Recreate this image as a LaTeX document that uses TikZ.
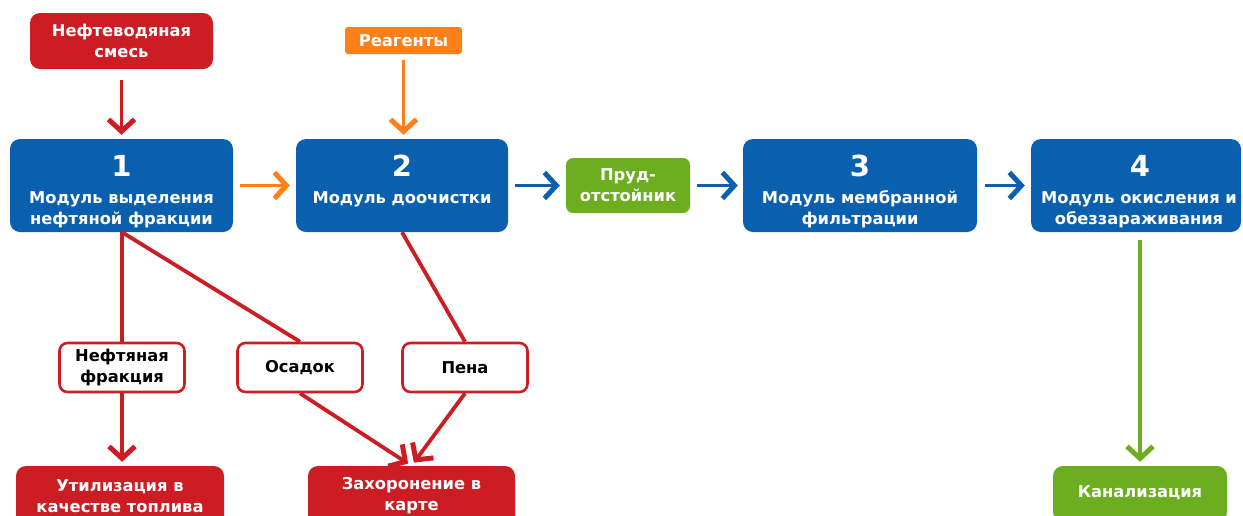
\documentclass[tikz,border=0pt]{standalone}
\usepackage{fontspec}
\setmainfont{DejaVu Sans}
\usetikzlibrary{arrows.meta}
\definecolor{cred}{HTML}{CC1D24}
\definecolor{cblue}{HTML}{0A60AE}
\definecolor{corange}{HTML}{FF8018}
\definecolor{cgreen}{HTML}{6CAE20}
\tikzset{
  lbl/.style={font=\bfseries\fontsize{16.3}{21}\selectfont, align=center, inner sep=0pt},
  num/.style={font=\bfseries\fontsize{29}{30}\selectfont, text=white, inner sep=0pt},
  blk/.style={rectangle, rounded corners=10pt, inner sep=0pt, fill=#1, draw=none},
  tag/.style={rectangle, rounded corners=8pt, inner sep=0pt, fill=white, draw=cred, line width=2.6pt,
              minimum width=125pt, minimum height=49pt},
  flow/.style={draw=#1, line width=3.8pt, -{Straight Barb[length=12pt,width=26pt,line width=5pt]}},
  wire/.style={draw=cred, line width=3.8pt}
}
\begin{document}
\begin{tikzpicture}[x=1pt,y=-1pt]
\useasboundingbox (0,0) rectangle (1243,515);
\clip (0,0) rectangle (1243,515);
\fill[white] (0,0) rectangle (1243,515);

% sources
\node[blk=cred, minimum width=183pt, minimum height=56pt] (mix) at (121.5,41) {};
\node[lbl, text=white] (mixT) at (mix) {Нефтеводяная\\смесь};
\node[blk=corange, rounded corners=3pt, minimum width=117pt, minimum height=27pt] (rea) at (403.5,40.5) {};
\node[lbl, text=white] (reaT) at (rea) {Реагенты};

% treatment modules
\node[blk=cblue, minimum width=223pt, minimum height=93pt] (b1) at (121.5,185.5) {};
\node[num] (n1) at (121.5,166) {1};
\node[lbl, text=white] (t1) at (121.5,209.5) {Модуль выделения\\нефтяной фракции};

\node[blk=cblue, minimum width=212pt, minimum height=93pt] (b2) at (402,185.5) {};
\node[num] (n2) at (402,166) {2};
\node[lbl, text=white] (t2) at (402,199) {Модуль доочистки};

\node[blk=cgreen, rounded corners=7pt, minimum width=124pt, minimum height=55pt] (pond) at (628,185.5) {};
\node[lbl, text=white] (pondT) at (pond) {Пруд-\\отстойник};

\node[blk=cblue, minimum width=234pt, minimum height=93pt] (b3) at (860,185.5) {};
\node[num] (n3) at (860,166) {3};
\node[lbl, text=white] (t3) at (860,209.5) {Модуль мембранной\\фильтрации};

\node[blk=cblue, minimum width=210pt, minimum height=93pt] (b4) at (1136,185.5) {};
\node[num] (n4) at (1140,166) {4};
\node[lbl, text=white] (t4) at (1139,209.5) {Модуль окисления и\\обеззараживания};

% by-products
\node[tag] (nf) at (122,367.5) {};
\node[lbl] (nfT) at (nf) {Нефтяная\\фракция};
\node[tag] (os) at (300,367.5) {};
\node[lbl] (osT) at (os) {Осадок};
\node[tag] (pe) at (465,367.5) {};
\node[lbl] (peT) at (pe) {Пена};

% destinations
\node[blk=cred, minimum width=208pt, minimum height=60pt] (ut) at (120,496) {};
\node[lbl, text=white] (utT) at (ut) {Утилизация в\\качестве топлива};
\node[blk=cred, minimum width=207pt, minimum height=60pt] (zh) at (411.5,496) {};
\node[lbl, text=white] (zhT) at (zh) {Захоронение в\\карте};
\node[blk=cgreen, minimum width=174pt, minimum height=56pt] (kan) at (1140,494) {};
\node[lbl, text=white] (kanT) at (1140,493) {Канализация};

% main flow
\draw[flow=cred, shorten <=11pt, shorten >=4pt] (mix.south) -- (b1.north);
\draw[flow=corange, shorten <=6pt, shorten >=4pt] (rea.south) -- (b2.north -| rea.south);
\draw[flow=corange, shorten <=7pt, shorten >=6pt] (b1.east) -- (b2.west);
\draw[flow=cblue, shorten <=7pt, shorten >=6pt] (b2.east) -- (pond.west);
\draw[flow=cblue, shorten <=7pt, shorten >=5pt] (pond.east) -- (b3.west);
\draw[flow=cblue, shorten <=8pt, shorten >=6pt] (b3.east) -- (b4.west);
\draw[flow=cgreen, shorten <=8pt, shorten >=4pt] (b4.south -| kan.north) -- (kan.north);

% by-product streams
\draw[wire] (b1.south -| nf.north) -- (nf.north);
\draw[wire] (b1.south -| nf.north) -- (os.north);
\draw[wire] (b2.south) -- (pe.north);
\draw[flow=cred, shorten >=4pt] (nf.south) -- (ut.north -| nf.south);
\draw[flow=cred, shorten >=4pt] (os.south) -- (zh.north);
\draw[flow=cred, shorten >=4pt] (pe.south) -- (zh.north);
\end{tikzpicture}
\end{document}
